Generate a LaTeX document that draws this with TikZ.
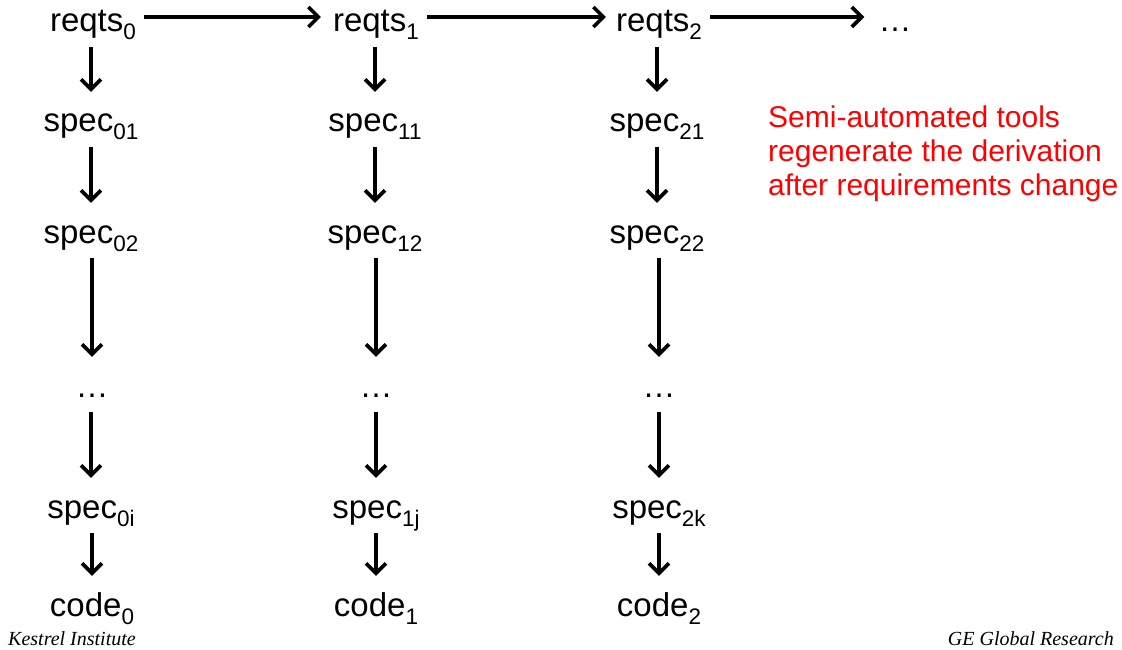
\documentclass[tikz,border=0pt]{standalone}
\usepackage{fontspec}
\setmainfont{Liberation Sans}
\newfontfamily\footfont{Liberation Serif}
\usetikzlibrary{arrows.meta}
\newcommand\subs[1]{\raisebox{-8pt}{\fontsize{22.5}{22.5}\selectfont #1}}
\begin{document}
\begin{tikzpicture}[x=1pt,y=-1pt,
  lbl/.style={anchor=base,inner sep=0pt,text height=40pt,text depth=15pt,font=\fontsize{33}{38}\selectfont},
  arr/.style={line width=3.6pt,-{Straight Barb[length=10pt,width=20pt]}},
  note/.style={anchor=north west,inner sep=0pt,align=left,text=red,font=\fontsize{30}{34}\selectfont},
  foot/.style={inner sep=0pt,font=\footfont\itshape\fontsize{20}{22}\selectfont}]
\useasboundingbox (0,0) rectangle (1122,650);
% column 0
\node[lbl] (r0)  at (93,32)  {reqts\subs{0}};
\node[lbl] (s01) at (91,132) {spec\subs{01}};
\node[lbl] (s02) at (91,243) {spec\subs{02}};
\node[lbl] (d0)  at (92,397) {\dots};
\node[lbl] (s0i) at (91,518) {spec\subs{0i}};
\node[lbl] (c0)  at (92,616) {code\subs{0}};
% column 1
\node[lbl] (r1)  at (376,32)  {reqts\subs{1}};
\node[lbl] (s11) at (375,132) {spec\subs{11}};
\node[lbl] (s12) at (375,243) {spec\subs{12}};
\node[lbl] (d1)  at (376,397) {\dots};
\node[lbl] (s1j) at (376,518) {spec\subs{1j}};
\node[lbl] (c1)  at (376,616) {code\subs{1}};
% column 2
\node[lbl] (r2)  at (659,32)  {reqts\subs{2}};
\node[lbl] (s21) at (657,132) {spec\subs{21}};
\node[lbl] (s22) at (657,243) {spec\subs{22}};
\node[lbl] (d2)  at (659,397) {\dots};
\node[lbl] (s2k) at (659,518) {spec\subs{2k}};
\node[lbl] (c2)  at (659,616) {code\subs{2}};
% top dots
\node[lbl] (rd) at (895,32) {\dots};
% vertical arrows
\foreach \a/\b in {r0/s01,s01/s02,s02/d0,d0/s0i,s0i/c0,
                   r1/s11,s11/s12,s12/d1,d1/s1j,s1j/c1,
                   r2/s21,s21/s22,s22/d2,d2/s2k,s2k/c2}
  \draw[arr] (\a.south -| \b.base) -- (\b.north);
% horizontal arrows
\draw[arr] ([xshift=8pt,yshift=15pt]r0.base east) -- ([xshift=-12pt,yshift=15pt]r1.base west);
\draw[arr] ([xshift=8pt,yshift=15pt]r1.base east) -- ([xshift=-10pt,yshift=15pt]r2.base west);
\draw[arr] ([xshift=8pt,yshift=15pt]r2.base east) -- ([xshift=-14pt,yshift=15pt]rd.base west);
% note
\node[note] (note) at (768,106) {Semi-automated tools\\regenerate the derivation\\after requirements change};
% footers
\node[foot,anchor=base west] (kes) at (8,645) {Kestrel Institute};
\node[foot,anchor=base east] (ge) at (1114,645) {GE Global Research};
\end{tikzpicture}
\end{document}
